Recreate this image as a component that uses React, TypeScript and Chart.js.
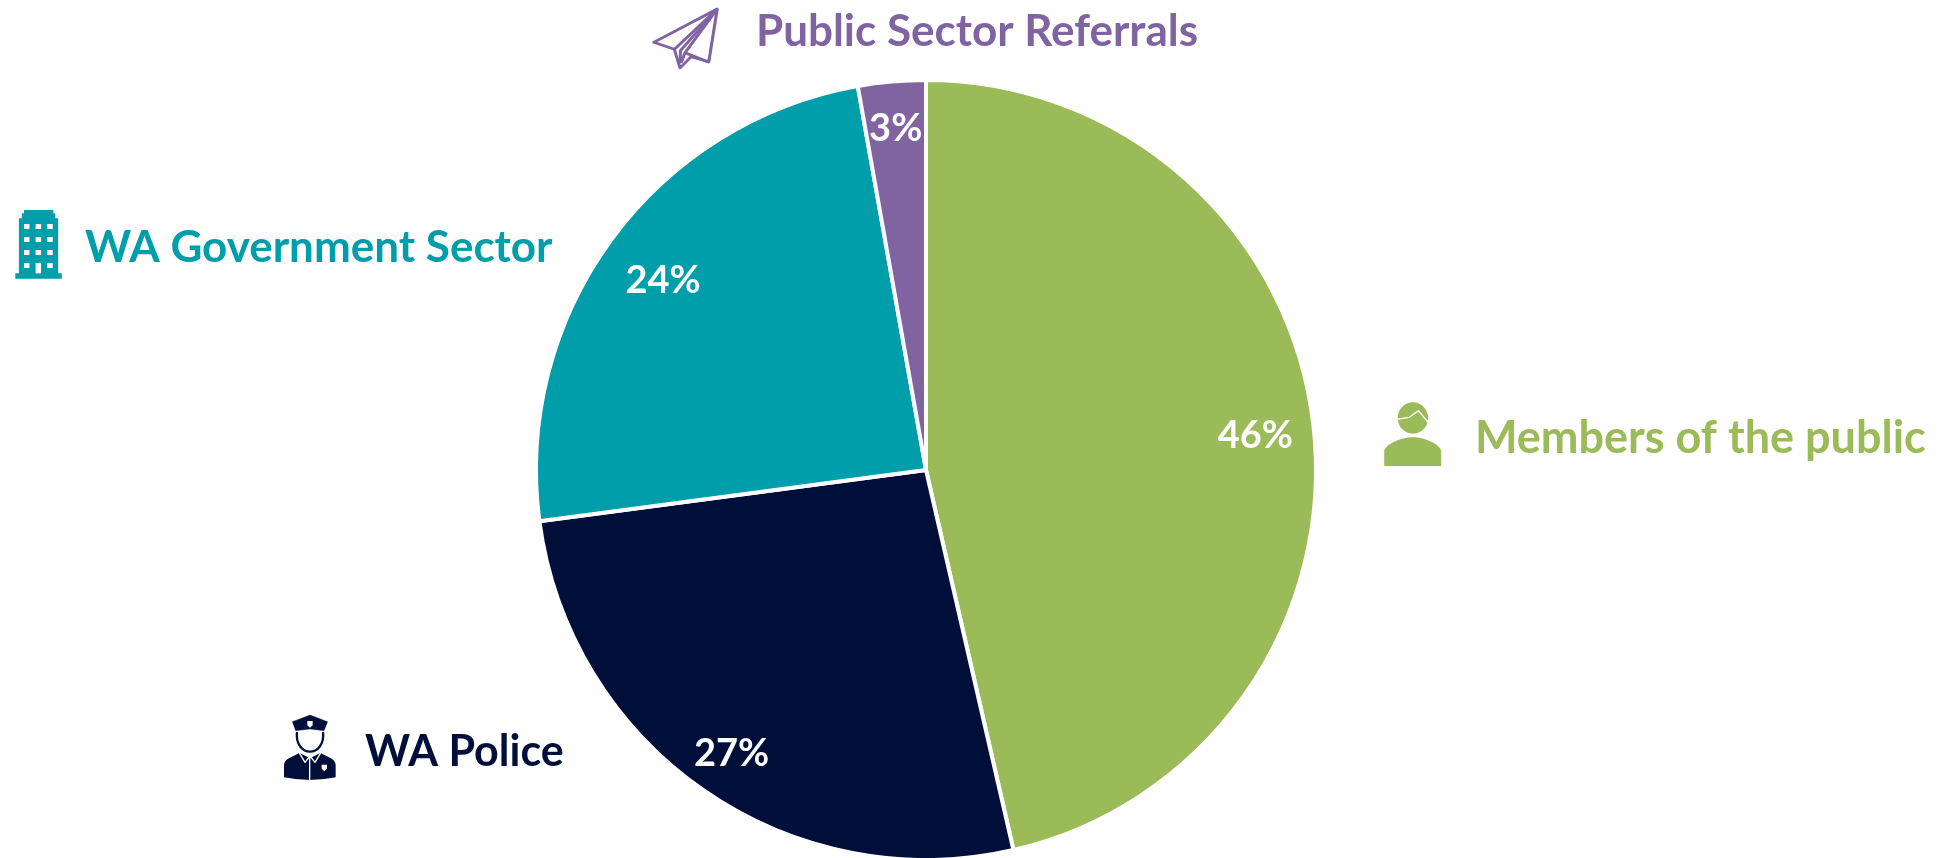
import React, { useEffect, useRef } from "react";
import { Chart, registerables } from "chart.js";

Chart.register(...registerables);

const categories = ["Members of the public", "WA Police", "WA Government Sector", "Public Sector Referrals"];
const values = [46.4, 26.5, 24.3, 2.8];
const percentLabels = ["46%", "27%", "24%", "3%"];
const colors = ["#9BBB59", "#000F3A", "#009EAA", "#8064A2"];
const labelRadius = [0.85, 0.875, 0.835, 0.885];
const legendAnchors = [
  { x: 1475, y: 453 },
  { x: 365, y: 766 },
  { x: 85, y: 262 },
  { x: 756, y: 46 },
];
const legendFontSizes = [45, 43, 44, 44];
const PERCENT_FONT = "bold 38px Lato";

type Ctx = CanvasRenderingContext2D;

function poly(ctx: Ctx, pts: number[][], close = true) {
  ctx.beginPath();
  pts.forEach((p, i) => (i ? ctx.lineTo(p[0], p[1]) : ctx.moveTo(p[0], p[1])));
  if (close) ctx.closePath();
}

function planeIcon(ctx: Ctx, color: string) {
  ctx.save();
  ctx.translate(620, 0);
  ctx.scale(1 / 2.613, 1 / 3);
  ctx.strokeStyle = color;
  ctx.lineWidth = 8;
  ctx.lineJoin = "round";
  poly(ctx, [[254, 27], [88, 127], [142, 148], [157, 204], [186, 170], [232, 186]]);
  ctx.stroke();
  poly(ctx, [[254, 27], [142, 148]], false);
  ctx.stroke();
  poly(ctx, [[254, 27], [158, 152], [157, 190]], false);
  ctx.stroke();
  poly(ctx, [[254, 27], [170, 158], [232, 186]], false);
  ctx.stroke();
  poly(ctx, [[170, 158], [160, 188]], false);
  ctx.stroke();
  ctx.restore();
}

function buildingIcon(ctx: Ctx, color: string) {
  ctx.save();
  ctx.translate(0, 190);
  ctx.scale(1 / 2.751, 1 / 3);
  ctx.fillStyle = color;
  poly(ctx, [
    [66, 60], [147, 60], [147, 70], [152, 70], [152, 85], [160, 85], [160, 250],
    [170, 250], [170, 266], [42, 266], [42, 250], [52, 250], [52, 85], [60, 85], [60, 70], [66, 70],
  ]);
  ctx.fill();
  ctx.fillStyle = "#fff";
  [102, 141, 180, 219].forEach((y) => {
    [66, 98, 130].forEach((x) => {
      const door = y === 219 && x === 98;
      ctx.fillRect(x, y, 15, door ? 31 : 15);
    });
  });
  ctx.restore();
}

function policeIcon(ctx: Ctx, color: string) {
  ctx.save();
  ctx.translate(260, 700);
  ctx.scale(1 / 3, 1 / 3);
  ctx.fillStyle = color;
  ctx.strokeStyle = color;
  ctx.lineJoin = "round";
  // cap
  poly(ctx, [[150, 45], [97, 65], [107, 92], [150, 87], [192, 92], [203, 65]]);
  ctx.fill();
  ctx.stroke();
  // face ring
  ctx.lineWidth = 7;
  ctx.beginPath();
  ctx.moveTo(111, 96);
  ctx.bezierCurveTo(106, 135, 130, 155, 150, 155);
  ctx.bezierCurveTo(170, 155, 194, 135, 189, 96);
  ctx.stroke();
  // body
  ctx.beginPath();
  ctx.moveTo(72, 232);
  ctx.lineTo(72, 195);
  ctx.bezierCurveTo(72, 175, 100, 170, 118, 158);
  ctx.lineTo(150, 175);
  ctx.lineTo(182, 158);
  ctx.bezierCurveTo(200, 170, 227, 175, 227, 195);
  ctx.lineTo(227, 232);
  ctx.quadraticCurveTo(150, 248, 72, 232);
  ctx.closePath();
  ctx.fill();
  // collar and placket
  ctx.strokeStyle = "#fff";
  ctx.lineWidth = 4;
  poly(ctx, [[117, 157], [135, 187], [150, 168], [165, 187], [183, 157]], false);
  ctx.stroke();
  poly(ctx, [[149, 170], [149, 250]], false);
  ctx.stroke();
  // badges
  ctx.fillStyle = "#fff";
  poly(ctx, [[185, 194], [201, 194], [201, 206], [193, 214], [185, 206]]);
  ctx.fill();
  poly(ctx, [[142, 63], [158, 63], [158, 76], [150, 83], [142, 76]]);
  ctx.fill();
  ctx.restore();
}

function personIcon(ctx: Ctx, color: string) {
  ctx.save();
  ctx.translate(1360, 390);
  ctx.scale(1 / 2.685, 1 / 3);
  ctx.fillStyle = color;
  // head
  ctx.beginPath();
  ctx.ellipse(142, 84, 41, 47, 0, 0, Math.PI * 2);
  ctx.fill();
  // hair parting
  ctx.strokeStyle = "#fff";
  ctx.lineWidth = 4;
  ctx.lineJoin = "round";
  poly(ctx, [[98, 88], [132, 82], [157, 62], [182, 96]], false);
  ctx.stroke();
  // shoulders
  ctx.fillStyle = color;
  ctx.beginPath();
  ctx.moveTo(65, 228);
  ctx.lineTo(65, 182);
  ctx.bezierCurveTo(70, 160, 115, 142, 142, 142);
  ctx.bezierCurveTo(170, 142, 212, 160, 218, 182);
  ctx.lineTo(218, 228);
  ctx.closePath();
  ctx.fill();
  ctx.restore();
}

const iconDrawers = [personIcon, policeIcon, buildingIcon, planeIcon];

const annotationsPlugin = {
  id: "pieAnnotations",
  afterDatasetsDraw(chart: any) {
    const ctx: Ctx = chart.ctx;
    const arcs = chart.getDatasetMeta(0).data;
    ctx.save();
    ctx.font = PERCENT_FONT;
    ctx.textAlign = "center";
    ctx.textBaseline = "middle";
    ctx.fillStyle = "#ffffff";
    arcs.forEach((arc: any, i: number) => {
      const mid = (arc.startAngle + arc.endAngle) / 2;
      const r = arc.outerRadius * labelRadius[i];
      ctx.fillText(percentLabels[i], arc.x + Math.cos(mid) * r, arc.y + Math.sin(mid) * r + 3);
    });
    ctx.textAlign = "left";
    ctx.textBaseline = "alphabetic";
    categories.forEach((name, i) => {
      ctx.font = `bold ${legendFontSizes[i]}px Lato`;
      ctx.fillStyle = colors[i];
      ctx.fillText(name, legendAnchors[i].x, legendAnchors[i].y);
      iconDrawers[i](ctx, colors[i]);
    });
    ctx.restore();
  },
};

export default function App() {
  const ref = useRef<HTMLCanvasElement>(null);
  useEffect(() => {
    document.body.style.margin = "0";
    const chart = new Chart(ref.current!, {
      type: "pie",
      data: {
        labels: categories,
        datasets: [
          {
            data: values,
            backgroundColor: colors,
            borderColor: "#ffffff",
            borderWidth: 4,
          },
        ],
      },
      options: {
        responsive: false,
        animation: false,
        radius: 390,
        layout: { padding: { top: 82, right: 92, left: 0, bottom: 0 } },
        plugins: { legend: { display: false }, tooltip: { enabled: false } },
      } as any,
      plugins: [annotationsPlugin],
    });
    return () => chart.destroy();
  }, []);
  return <canvas ref={ref} width={1944} height={858} style={{ display: "block" }} />;
}
